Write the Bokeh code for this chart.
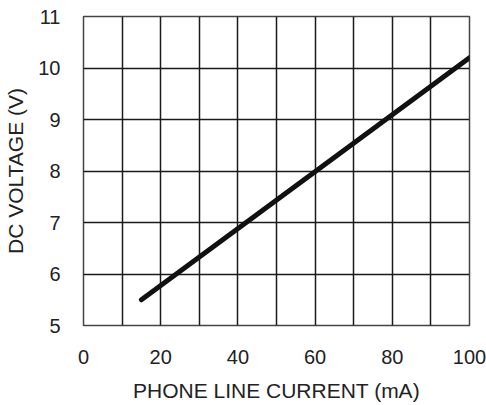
from bokeh.plotting import figure
from bokeh.models import FixedTicker, Range1d
from bokeh.embed import file_html
from bokeh.resources import INLINE

current_ma = [15, 100]
voltage_v = [5.5, 10.2]
x_ticks = [0, 20, 40, 60, 80, 100]
x_grid = [0, 10, 20, 30, 40, 50, 60, 70, 80, 90, 100]
y_ticks = [5, 6, 7, 8, 9, 10, 11]

p = figure(width=486, height=405, output_backend="svg", toolbar_location=None,
           x_range=Range1d(0, 100), y_range=Range1d(5, 11),
           min_border_left=83, min_border_right=17, min_border_top=16, min_border_bottom=80)

p.line(current_ma, voltage_v, line_color="#111111", line_width=5, line_cap="round")

p.xaxis.ticker = FixedTicker(ticks=x_ticks)
p.yaxis.ticker = FixedTicker(ticks=y_ticks)
p.xgrid.ticker = FixedTicker(ticks=x_grid)
p.ygrid.ticker = FixedTicker(ticks=y_ticks)

for g in (p.xgrid, p.ygrid):
    g.grid_line_color = "#1a1a1a"
    g.grid_line_width = 1.5
    g.grid_line_alpha = 1.0

p.outline_line_color = "#444444"
p.outline_line_width = 1.5
p.outline_line_alpha = 1.0

for ax in (p.xaxis, p.yaxis):
    ax.axis_line_color = None
    ax.major_tick_line_color = None
    ax.minor_tick_line_color = None
    ax.major_label_text_font = "Liberation Sans"
    ax.major_label_text_font_size = "20px"
    ax.major_label_text_color = "#222222"
    ax.axis_label_text_font = "Liberation Sans"
    ax.axis_label_text_font_size = "21px"
    ax.axis_label_text_font_style = "normal"
    ax.axis_label_text_color = "#222222"

p.xaxis.axis_label = "PHONE LINE CURRENT (mA)"
p.yaxis.axis_label = "DC VOLTAGE (V)"
p.xaxis.major_label_standoff = 18
p.yaxis.major_label_standoff = 17
p.xaxis.axis_label_standoff = 12
p.yaxis.axis_label_standoff = 8

open("out.html", "w").write(file_html(p, INLINE))
